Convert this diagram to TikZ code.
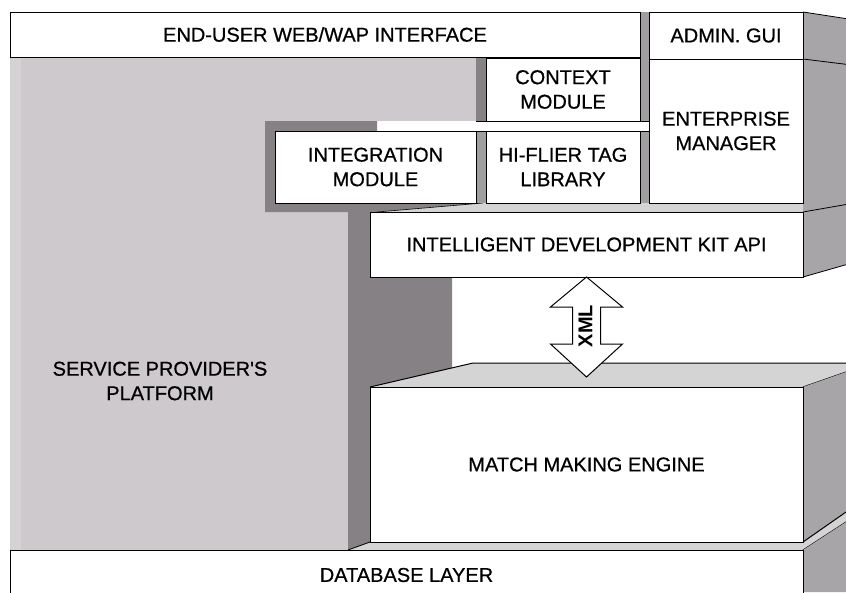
\documentclass[tikz,border=0pt]{standalone}
\usepackage{fontspec}
\setmainfont{Liberation Sans}[FakeBold=0.7,Ligatures=TeXOff]
\newfontfamily\xmlfont{Liberation Sans Bold}
\usetikzlibrary{calc}
\definecolor{plat}{RGB}{205,201,205}
\definecolor{platedge}{RGB}{213,210,213}
\definecolor{darkside}{RGB}{133,129,133}
\definecolor{sidegray}{RGB}{168,165,168}
\definecolor{stripgray}{RGB}{160,158,160}
\definecolor{topface}{RGB}{212,212,212}
\begin{document}
\begin{tikzpicture}[x=1pt,y=-1pt,
  box/.style={draw=black, fill=white, line width=1pt, inner sep=0pt, outer sep=0pt,
    anchor=north west, align=center, font=\fontsize{20}{24.5}\selectfont},
  lbl/.style={align=center, font=\fontsize{20}{24.5}\selectfont, inner sep=0pt},
  edge/.style={line width=1pt, black}]
\useasboundingbox (0,0) rectangle (846,592);
\fill[white] (0,0) rectangle (846,592);
% service provider's platform (light grey)
\fill[plat] (10,57) rectangle (476,121);
\fill[plat] (10,57) rectangle (348,550);
\fill[platedge] (10,57) rectangle (21,550);
% dark side faces
\fill[darkside] (348,212) -- (370,212) -- (370,277) -- (452,277) -- (452,368)
  -- (370,387) -- (370,542) -- (348,550) -- cycle;
\fill[darkside] (265,121) -- (377,121) -- (377,131) -- (476,131) -- (476,203)
  -- (483,203) -- (377,212) -- (265,212) -- cycle;
\fill[darkside] (476,58) rectangle (486,121);
% top face of the development kit layer
\fill[topface] (377,212) -- (483,203) -- (803,203) -- (803,212) -- cycle;
\draw[line width=0.6pt] (377,212) -- (483,203);
% narrow grey strips
\fill[stripgray] (476,131) rectangle (486,203);
\fill[stripgray] (640,12) rectangle (649,121);
\fill[stripgray] (640,131) rectangle (649,203);
\draw[line width=0.8pt] (476,121.5) -- (649,121.5);
\draw[line width=0.8pt] (275,131) -- (649,131);
% right side faces
\fill[sidegray] (803,12) -- (846,18.6) -- (846,264.7) -- (803,277) -- cycle;
\draw[line width=0.8pt] (803,12) -- (846,18.6);
\draw[line width=0.8pt] (803,59) -- (846,64.3);
\draw[line width=0.8pt] (803,212) -- (846,204.5);
\draw[line width=0.8pt] (803,277) -- (846,264.7);
% match making engine top and side
\fill[topface] (370,387) -- (473,363) -- (846,363) -- (846,372) -- (803,387) -- cycle;
\draw[edge] (370,387) -- (473,363) -- (846,363);
\draw[edge] (803,387) -- (846,372);
\fill[sidegray] (803,387) -- (846,372) -- (846,512) -- (803,542) -- cycle;
% database layer top and side
\fill[topface] (348,550) -- (370,542) -- (803,542) -- (846,512) -- (846,522) -- (803,550) -- cycle;
\draw[line width=0.8pt] (348,550) -- (370,542);
\draw[edge] (803,542) -- (846,512);
\draw[edge] (803,550) -- (846,522);
\fill[sidegray] (803,550) -- (846,522) -- (846,592) -- (803,592) -- cycle;
% boxes
\node[box, minimum width=630pt, minimum height=45pt] (web) at (10,12) {END-USER WEB/WAP INTERFACE};
\node[box, minimum width=154pt, minimum height=47pt] (admin) at (649,12) {ADMIN. GUI};
\node[box, minimum width=154pt, minimum height=144pt] (ent) at (649,59) {ENTERPRISE\\MANAGER};
\node[box, minimum width=154pt, minimum height=63pt] (ctx) at (486,58) {CONTEXT\\MODULE};
\node[box, minimum width=201pt, minimum height=72pt] (integ) at (275,131) {INTEGRATION\\MODULE};
\node[box, minimum width=154pt, minimum height=72pt] (tag) at (486,131) {HI-FLIER TAG\\LIBRARY};
\node[box, minimum width=433pt, minimum height=65pt] (idk) at (370,212) {INTELLIGENT DEVELOPMENT KIT API};
\node[box, minimum width=433pt, minimum height=155pt] (mme) at (370,387) {MATCH MAKING ENGINE};
\node[box, minimum width=793pt, minimum height=50pt] (db) at (10,550) {DATABASE LAYER};
\node[lbl] (spp) at (160,381) {SERVICE PROVIDER'S\\PLATFORM};
% XML double arrow
\draw[edge, fill=white] (idk.south) -- ++(36,30) -- ++(-22,0) -- ++(0,37) -- ++(22,0)
  -- ++(-36,33) -- ++(-36,-33) -- ++(22,0) -- ++(0,-37) -- ++(-22,0) -- cycle;
\node[lbl, rotate=90, font=\xmlfont\fontsize{20}{24}\selectfont] (xml) at ($(idk.south)+(-1,49)$) {XML};
\end{tikzpicture}
\end{document}
